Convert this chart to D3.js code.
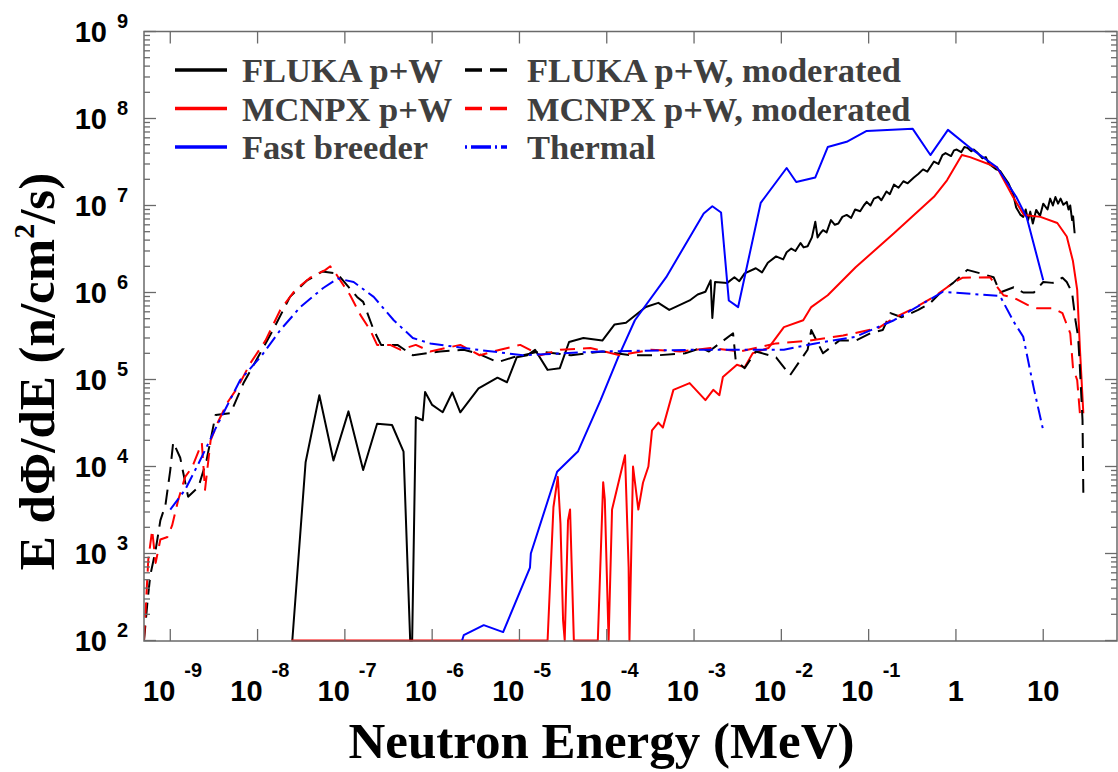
<!DOCTYPE html>
<html><head><meta charset="utf-8">
<script src="https://cdn.jsdelivr.net/npm/d3@7"></script>
<style>body{margin:0;background:#fff}svg{display:block}</style>
</head><body><svg id="c" width="1118" height="772"></svg>
<script>
// ---------- axis data ----------
const xDomain = [5e-10, 70];
const yDomain = [1e2, 1e9];
const xTickValues = [1e-9,1e-8,1e-7,1e-6,1e-5,1e-4,1e-3,1e-2,1e-1,1,10];
const xTickBase = ["10","10","10","10","10","10","10","10","10","1","10"];
const xTickExp  = ["-9","-8","-7","-6","-5","-4","-3","-2","-1","",""];
const yTickValues = [1e2,1e3,1e4,1e5,1e6,1e7,1e8,1e9];
const yTickBase = ["10","10","10","10","10","10","10","10"];
const yTickExp  = ["2","3","4","5","6","7","8","9"];
const xTitle = "Neutron Energy (MeV)";
const yTitleMain = "E dΦ/dE (n/cm";
const yTitleSup = "2";
const yTitleEnd = "/s)";

// ---------- legend ----------
const legendNames = ["FLUKA p+W","MCNPX p+W","Fast breeder","FLUKA p+W, moderated","MCNPX p+W, moderated","Thermal"];

// ---------- series (E in MeV, E dPhi/dE in n/cm2/s) ----------
const flukaE = [2.5e-8,3.55e-8,5.1e-8,7.4e-8,1.1e-7,1.62e-7,2.34e-7,3.47e-7,4.7e-7,5.6e-7,5.9e-7,6.5e-7,7.8e-7,8.3e-7,1.0e-6,1.32e-6,1.7e-6,2.1e-6,3.4e-6,5.6e-6,7.2e-6,9.3e-6,1.23e-5,1.51e-5,2.1e-5,2.9e-5,3.7e-5,5.4e-5,8.9e-5,1.23e-4,1.66e-4,2.8e-4,3.9e-4,5.2e-4,8.9e-4,1.1e-3,1.35e-3,1.55e-3,1.62e-3,1.74e-3,2.4e-3,2.9e-3,3.3e-3,3.8e-3,5.1e-3,6.0e-3,7.0e-3,8.7e-3,1.05e-2,1.15e-2,1.3e-2,1.45e-2,1.66e-2,1.8e-2,2.0e-2,2.24e-2,2.45e-2,2.6e-2,2.8e-2,3.0e-2,3.3e-2,3.7e-2,4.1e-2,4.5e-2,5.0e-2,5.6e-2,6.3e-2,7.0e-2,8.0e-2,8.8e-2,9.5e-2,0.105,0.115,0.129,0.14,0.16,0.175,0.195,0.22,0.25,0.28,0.33,0.37,0.42,0.47,0.56,0.63,0.7,0.76,0.88,0.95,1.02,1.15,1.25,1.35,1.5,1.6,1.74,2.0,2.2,2.4,2.9,3.2,3.6,4.0,4.5,4.9,5.5,5.9,6.3,6.7,7.1,7.6,8.3,9.2,10.0,11.2,12.0,12.9,13.8,14.8,15.8,17.0,18.6,19.5,20.4,21.4,22.0,22.9];
const flukaV = [1,1.12e4,6.6e4,1.17e4,4.3e4,9.1e3,3.1e4,3.0e4,1.48e4,1,1,3.7e4,3.4e4,7.2e4,5.1e4,4.2e4,7.1e4,4.2e4,7.9e4,1.05e5,9.3e4,1.8e5,1.9e5,2.2e5,1.29e5,1.35e5,2.7e5,3.0e5,2.8e5,4.3e5,4.5e5,6.8e5,7.6e5,6.3e5,8.1e5,9.5e5,1.02e6,1.38e6,5.1e5,1.32e6,1.29e6,1.5e6,1.35e6,1.66e6,1.9e6,1.7e6,2.2e6,2.6e6,2.4e6,2.9e6,3.2e6,3.0e6,3.7e6,3.3e6,3.4e6,4.3e6,6.5e6,4.3e6,4.8e6,5.2e6,4.9e6,6.8e6,6.0e6,6.2e6,7.4e6,7.8e6,7.2e6,9.0e6,8.6e6,1.0e7,1.1e7,1.0e7,1.2e7,1.26e7,1.15e7,1.45e7,1.35e7,1.74e7,1.6e7,1.9e7,1.8e7,2.1e7,2.3e7,2.6e7,2.45e7,3.2e7,3.0e7,3.8e7,4.0e7,3.7e7,4.3e7,4.4e7,4.1e7,4.7e7,4.6e7,4.2e7,4.4e7,4.1e7,3.5e7,3.6e7,3.0e7,2.6e7,2.5e7,2.1e7,1.8e7,1.38e7,9.5e6,7.8e6,7.4e6,9.0e6,6.8e6,8.5e6,6.2e6,8.9e6,7.6e6,1.05e7,9.0e6,1.2e7,1.0e7,1.25e7,1.05e7,1.2e7,1.02e7,1.1e7,9.0e6,1.0e7,6.8e6,7.5e6,4.8e6];

const mcnpxE = [2.45e-8,2.1e-5,2.45e-5,2.75e-5,2.95e-5,3.16e-5,3.3e-5,3.6e-5,3.8e-5,4.2e-5,7.9e-5,9.1e-5,9.5e-5,1.05e-4,1.15e-4,1.62e-4,1.78e-4,1.82e-4,2.0e-4,2.3e-4,2.6e-4,3.0e-4,3.3e-4,3.9e-4,4.4e-4,5.8e-4,8.9e-4,1.35e-3,1.66e-3,1.95e-3,2.14e-3,3.1e-3,3.8e-3,4.7e-3,7.1e-3,1.07e-2,1.78e-2,2.2e-2,3.4e-2,7.1e-2,0.195,0.56,0.79,1.17,1.45,2.95,4.5,6.0,9.3,14.5,18.6,21.9,24.5,26.3,28.8];
const mcnpxV = [1,1,3.4e3,7.6e3,2.2e3,170,1,2.4e3,3.2e3,1,1,6.6e3,4.2e3,1,3.2e3,1.35e4,700,1,1.0e4,3.2e3,6.5e3,1.0e4,2.6e4,3.2e4,2.8e4,7.6e4,9.1e4,5.8e4,7.6e4,6.6e4,1.07e5,1.48e5,1.38e5,2.0e5,2.3e5,4.0e5,4.8e5,6.8e5,9.3e5,1.95e6,4.8e6,1.26e7,1.95e7,3.8e7,3.6e7,2.75e7,1.26e7,7.8e6,7.4e6,6.3e6,4.4e6,2.3e6,1.07e6,2.3e5,4.1e4];

const breederE = [2.2e-6,2.3e-6,3.9e-6,6.5e-6,1.32e-5,1.35e-5,2.7e-5,4.7e-5,8.5e-5,1.35e-4,2.1e-4,4.8e-4,1.29e-3,1.62e-3,2.04e-3,2.5e-3,3.2e-3,5.8e-3,1.15e-2,1.48e-2,2.45e-2,3.4e-2,5.6e-2,9.5e-2,0.32,0.51,0.81,1.45,2.95,4.9,6.5,10];
const breederV = [100,115,150,125,690,1.0e3,8.7e3,1.5e4,5.8e4,1.8e5,4.8e5,1.5e6,8.1e6,9.8e6,8.3e6,8.1e5,6.8e5,1.07e7,2.7e7,1.86e7,2.1e7,4.7e7,5.4e7,7.2e7,7.6e7,3.8e7,7.4e7,4.6e7,2.75e7,1.26e7,7.2e6,1.38e6];

const flukaModE = [5.0e-10,5.5e-10,5.9e-10,6.8e-10,7.7e-10,8.8e-10,1.0e-9,1.08e-9,1.3e-9,1.6e-9,2.1e-9,2.6e-9,3.3e-9,4.9e-9,6.9e-9,1.07e-8,1.5e-8,2.35e-8,3.7e-8,5.5e-8,8.1e-8,1.38e-7,1.62e-7,2.14e-7,2.6e-7,4.0e-7,6.0e-7,1.23e-6,2.3e-6,3.3e-6,5.6e-6,8.5e-6,1.7e-5,3.9e-5,8.9e-5,1.86e-4,3.9e-4,7.9e-4,1.2e-3,1.48e-3,2.8e-3,3.0e-3,3.8e-3,5.1e-3,8.7e-3,1.26e-2,2.0e-2,2.2e-2,3.0e-2,4.6e-2,7.1e-2,0.105,0.145,0.178,0.24,0.37,0.51,0.68,0.93,1.35,1.9,2.7,3.2,4.6,5.9,7.8,10,12.9,16.6,18.6,21.4,23.4,25.1,26.3,28.2,28.8];
const flukaModV = [80,290,560,1.1e3,2.4e3,3.6e3,9.1e3,1.9e4,1.26e4,4.5e3,5.8e3,1.17e4,3.9e4,4.1e4,9.1e4,2.0e5,3.7e5,8.9e5,1.38e6,1.74e6,1.66e6,8.9e5,7.8e5,3.7e5,2.5e5,2.5e5,1.9e5,2.1e5,2.2e5,2.0e5,1.58e5,1.8e5,2.1e5,1.9e5,2.1e5,1.9e5,1.9e5,2.0e5,2.3e5,2.1e5,3.4e5,1.66e5,1.35e5,2.1e5,1.8e5,1.12e5,2.2e5,3.7e5,2.0e5,2.8e5,2.8e5,3.4e5,3.7e5,5.8e5,5.2e5,6.3e5,7.6e5,1.02e6,1.29e6,1.82e6,1.66e6,1.5e6,1.0e6,1.15e6,1.0e6,1.0e6,1.32e6,1.29e6,1.48e6,1.32e6,1.0e6,4.8e5,3.1e5,1.38e5,3.4e4,5.0e3];

const mcnpxModE = [5.0e-10,5.6e-10,6.2e-10,6.8e-10,7.7e-10,9.3e-10,1.05e-9,1.23e-9,1.48e-9,1.78e-9,2.3e-9,2.5e-9,2.9e-9,3.5e-9,4.5e-9,5.9e-9,8.3e-9,1.23e-8,1.82e-8,2.7e-8,4.0e-8,6.0e-8,6.8e-8,8.1e-8,1.15e-7,1.51e-7,1.95e-7,2.34e-7,3.3e-7,4.3e-7,6.5e-7,9.5e-7,2.1e-6,3.5e-6,6.0e-6,1.02e-5,1.74e-5,2.95e-5,6.5e-5,1.41e-4,3.2e-4,6.9e-4,1.55e-3,3.4e-3,8.7e-3,2.1e-2,5.1e-2,0.129,0.195,0.33,0.56,0.93,1.2,2.45,3.5,4.6,6.6,8.5,12.9,16.6,17.8,20.4,21.9,24.5,26.3];
const mcnpxModV = [80,850,1.86e3,780,1.45e3,1.55e3,2.1e3,4.1e3,7.6e3,9.8e3,1.86e4,5.4e3,2.0e4,3.2e4,5.4e4,8.1e4,1.55e5,2.8e5,6.3e5,1.07e6,1.48e6,1.82e6,2.0e6,1.58e6,9.3e5,5.5e5,3.7e5,2.5e5,2.5e5,2.2e5,2.5e5,2.1e5,2.5e5,1.9e5,2.2e5,2.5e5,1.9e5,2.2e5,2.3e5,1.9e5,2.2e5,2.1e5,2.3e5,2.1e5,2.6e5,2.8e5,3.2e5,3.9e5,5.1e5,6.6e5,8.9e5,1.29e6,1.48e6,1.5e6,9.3e5,8.7e5,7.2e5,6.6e5,6.6e5,5.8e5,4.8e5,3.4e5,1.38e5,9.8e4,4.1e4];

const thermalE = [1.0e-9,1.48e-9,2.19e-9,3.31e-9,6.3e-9,1.12e-8,1.82e-8,3.09e-8,5.6e-8,8.3e-8,1.26e-7,2.14e-7,3.63e-7,6.0e-7,9.5e-7,2.3e-6,1.1e-5,8.5e-5,1.17e-3,1.07e-2,2.45e-2,7.1e-2,0.195,0.71,3.2,4.6,5.9,7.8,10];
const thermalV = [3.2e3,5.4e3,1.17e4,2.75e4,9.8e4,1.9e5,3.7e5,6.8e5,1.12e6,1.45e6,1.32e6,8.9e5,4.8e5,3.0e5,2.6e5,2.3e5,1.9e5,2.1e5,2.2e5,2.2e5,2.6e5,3.1e5,4.8e5,1.02e6,9.1e5,4.6e5,3.1e5,7.9e4,2.6e4];

// ---------- drawing ----------
const W = 1118, H = 772;
const L = 144, R = 1117, T = 31.5, B = 641;
const sans = "'Liberation Sans', Arial, Helvetica, sans-serif";
const serif = "'Liberation Serif', 'Times New Roman', Times, serif";
const svg = d3.select("#c");
svg.append("rect").attr("width", W).attr("height", H).attr("fill", "#fff");

const x = d3.scaleLog().domain(xDomain).range([L, R]);
const y = d3.scaleLog().domain(yDomain).range([640.5, T]).clamp(true);

svg.append("defs").append("clipPath").attr("id", "clip")
  .append("rect").attr("x", L).attr("y", T - 1).attr("width", R - L).attr("height", B - T + 2);

const plot = svg.append("g").attr("clip-path", "url(#clip)");
const line = d3.line().x(d => x(d[0])).y(d => y(d[1]));
const zip = (a, b) => a.map((v, i) => [v, b[i]]);

const series = [
  {E: flukaE, V: flukaV, color: "#000000", dash: null, w: 2},
  {E: mcnpxE, V: mcnpxV, color: "#ff0000", dash: null, w: 2},
  {E: breederE, V: breederV, color: "#0000ff", dash: null, w: 2},
  {E: flukaModE, V: flukaModV, color: "#000000", dash: "15,8", w: 2},
  {E: mcnpxModE, V: mcnpxModV, color: "#ff0000", dash: "15,8", w: 2},
  {E: thermalE, V: thermalV, color: "#0000ff", dash: "14,5,3,5", w: 2}
];
series.forEach(s => {
  plot.append("path").datum(zip(s.E, s.V))
    .attr("d", line).attr("fill", "none")
    .attr("stroke", s.color).attr("stroke-width", s.w)
    .attr("stroke-linejoin", "round")
    .attr("stroke-dasharray", s.dash);
});

// ---------- frame & ticks ----------
const axisColor = "#6a6a6a";
const frame = svg.append("g").attr("stroke", axisColor).attr("stroke-width", 1.5).attr("fill", "none");
frame.append("rect").attr("x", L).attr("y", T).attr("width", R - L).attr("height", B - T);

const isMajor = v => Math.abs(Math.log10(v) - Math.round(Math.log10(v))) < 1e-6;
const xt = x.ticks().filter(v => v >= xDomain[0] && v <= xDomain[1]);
const yt = y.ticks().filter(v => v >= yDomain[0] && v <= yDomain[1]);
const tk = svg.append("g").attr("stroke", axisColor).attr("stroke-width", 1.3);
xt.forEach(v => {
  const len = isMajor(v) ? 12 : 6, px = x(v);
  tk.append("line").attr("x1", px).attr("x2", px).attr("y1", B).attr("y2", B - len);
  tk.append("line").attr("x1", px).attr("x2", px).attr("y1", T).attr("y2", T + len);
});
yt.forEach(v => {
  const len = isMajor(v) ? 12 : 6, py = y(v);
  tk.append("line").attr("x1", L).attr("x2", L + len).attr("y1", py).attr("y2", py);
  tk.append("line").attr("x1", R).attr("x2", R - len).attr("y1", py).attr("y2", py);
});

// ---------- tick labels ----------
const lab = svg.append("g").attr("font-family", sans).attr("font-weight", "bold").attr("fill", "#000");
yTickValues.forEach((v, i) => {
  const py = y(v);
  lab.append("text").attr("x", 107).attr("y", py + 10.5).attr("text-anchor", "end")
    .attr("font-size", 29).text(yTickBase[i]);
  lab.append("text").attr("x", 117).attr("y", py - 4).attr("text-anchor", "start")
    .attr("font-size", 20).text(yTickExp[i]);
});
xTickValues.forEach((v, i) => {
  const px = x(v);
  if (xTickExp[i]) {
    lab.append("text").attr("x", px + 5).attr("y", 701).attr("text-anchor", "end")
      .attr("font-size", 29).text(xTickBase[i]);
    lab.append("text").attr("x", px + 14).attr("y", 677).attr("text-anchor", "start")
      .attr("font-size", 20).text(xTickExp[i]);
  } else {
    lab.append("text").attr("x", px).attr("y", 701).attr("text-anchor", "middle")
      .attr("font-size", 29).text(xTickBase[i]);
  }
});

// ---------- axis titles ----------
svg.append("text").attr("x", 601.5).attr("y", 758).attr("text-anchor", "middle")
  .attr("font-family", serif).attr("font-weight", "bold").attr("font-size", 51).attr("fill", "#000")
  .text(xTitle);
const yt2 = svg.append("text").attr("transform", "translate(54,371.5) rotate(-90)")
  .attr("text-anchor", "middle").attr("font-family", serif).attr("font-weight", "bold")
  .attr("font-size", 51).attr("fill", "#000");
yt2.append("tspan").text(yTitleMain);
yt2.append("tspan").attr("font-size", 30).attr("dy", -20).text(yTitleSup);
yt2.append("tspan").attr("dy", 20).text(yTitleEnd);

// ---------- legend ----------
const legPos = [
  {lx: 175, tx: 242, row: 0}, {lx: 175, tx: 242, row: 1}, {lx: 175, tx: 242, row: 2},
  {lx: 465, tx: 527, row: 0}, {lx: 465, tx: 527, row: 1}, {lx: 465, tx: 527, row: 2}
];
const legDash = [null, null, null, "17,8", "17,8", "2,4,20,4"];
const leg = svg.append("g");
legendNames.forEach((name, i) => {
  const p = legPos[i], ly = 70 + p.row * 38.5;
  const len = p.lx === 175 ? 52 : 42;
  leg.append("line").attr("x1", p.lx).attr("x2", p.lx + len).attr("y1", ly).attr("y2", ly)
    .attr("stroke", series[i].color).attr("stroke-width", 3.5)
    .attr("stroke-dasharray", legDash[i]);
  leg.append("text").attr("x", p.tx).attr("y", ly + 12)
    .attr("font-family", serif).attr("font-weight", "bold").attr("font-size", 34.5)
    .attr("fill", "#3f3f3f").text(name);
});
</script></body></html>
